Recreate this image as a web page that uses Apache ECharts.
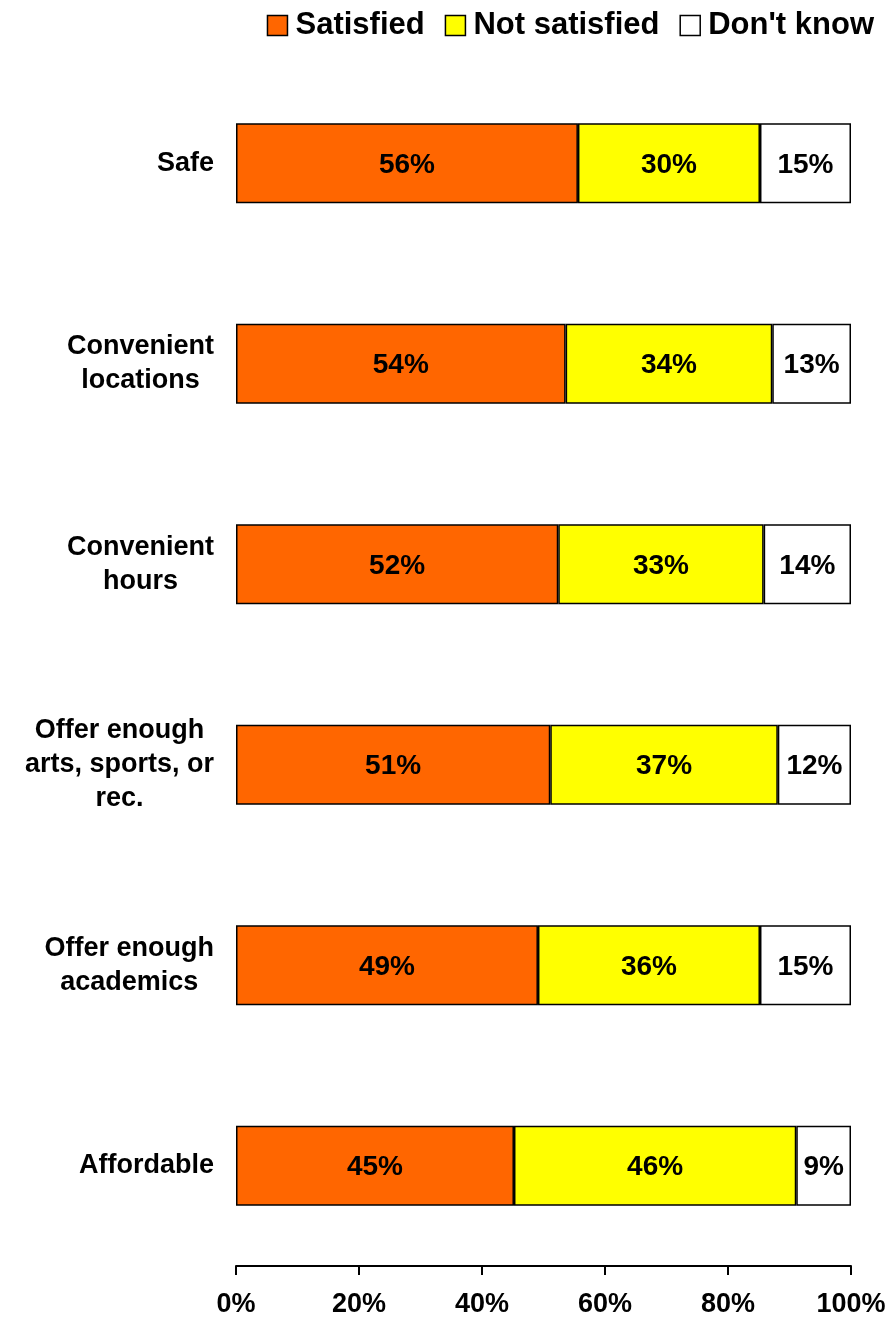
<!DOCTYPE html>
<html>
<head>
<meta charset="utf-8">
<script src="https://cdn.jsdelivr.net/npm/echarts@6/dist/echarts.min.js"></script>
<style>
html,body{margin:0;padding:0;background:#fff;}
#chart{width:893px;height:1319px;}
</style>
</head>
<body>
<div id="chart"></div>
<script>
var categories = ['Safe', 'Convenient\nlocations', 'Convenient\nhours', 'Offer enough\narts, sports, or\nrec.', 'Offer enough\nacademics', 'Affordable'];
var seriesNames = ['Satisfied', 'Not satisfied', "Don't know"];
var satisfied = [55.6, 53.6, 52.4, 51.1, 49.1, 45.2];
var notSatisfied = [29.6, 33.6, 33.4, 37.0, 36.1, 45.9];
var dontKnow = [14.8, 12.8, 14.2, 11.9, 14.8, 8.9];
var colors = ['#FF6600', '#FFFF00', '#FFFFFF'];

var FONT = "'Liberation Sans', Arial, sans-serif";
var chart = echarts.init(document.getElementById('chart'));

function mkSeries(name, data, color) {
  return {
    name: name,
    type: 'bar',
    stack: 'total',
    data: data,
    barWidth: 80,
    itemStyle: { color: color, borderColor: '#000', borderWidth: 1.5 },
    label: {
      show: true,
      position: 'inside',
      formatter: function (p) { return Math.round(p.value) + '%'; },
      color: '#000',
      fontFamily: FONT,
      fontWeight: 'bold',
      fontSize: 28,
      offset: [0, 2]
    },
    emphasis: { disabled: true },
    animation: false
  };
}

chart.setOption({
  animation: false,
  backgroundColor: '#fff',
  legend: {
    top: 5,
    right: 14,
    itemWidth: 20,
    itemHeight: 20,
    itemGap: 20,
    icon: 'rect',
    itemStyle: { borderColor: '#000', borderWidth: 1.5 },
    textStyle: { fontFamily: FONT, fontWeight: 'bold', fontSize: 31, color: '#000', padding: [0, 0, 0, 3] },
    data: seriesNames
  },
  grid: { left: 236, right: 42, top: 63, bottom: 53, containLabel: false },
  xAxis: {
    type: 'value',
    min: 0,
    max: 100,
    interval: 20,
    axisLine: { show: true, lineStyle: { color: '#000', width: 2 } },
    axisTick: { show: true, length: 9, lineStyle: { color: '#000', width: 2 } },
    splitLine: { show: false },
    axisLabel: {
      formatter: '{value}%',
      margin: 25,
      color: '#000',
      fontFamily: FONT,
      fontWeight: 'bold',
      fontSize: 27
    }
  },
  yAxis: {
    type: 'category',
    inverse: true,
    data: categories,
    axisLine: { show: false },
    axisTick: { show: false },
    axisLabel: {
      margin: 22,
      align: 'right',
      formatter: function (v) {
        return v.split('\n').map(function (l) { return '{c|' + l + '}'; }).join('\n');
      },
      rich: {
        c: { align: 'center', color: '#000', fontFamily: FONT, fontWeight: 'bold', fontSize: 27, lineHeight: 34 }
      }
    }
  },
  series: [
    mkSeries(seriesNames[0], satisfied, colors[0]),
    mkSeries(seriesNames[1], notSatisfied, colors[1]),
    mkSeries(seriesNames[2], dontKnow, colors[2])
  ]
});
</script>
</body>
</html>
